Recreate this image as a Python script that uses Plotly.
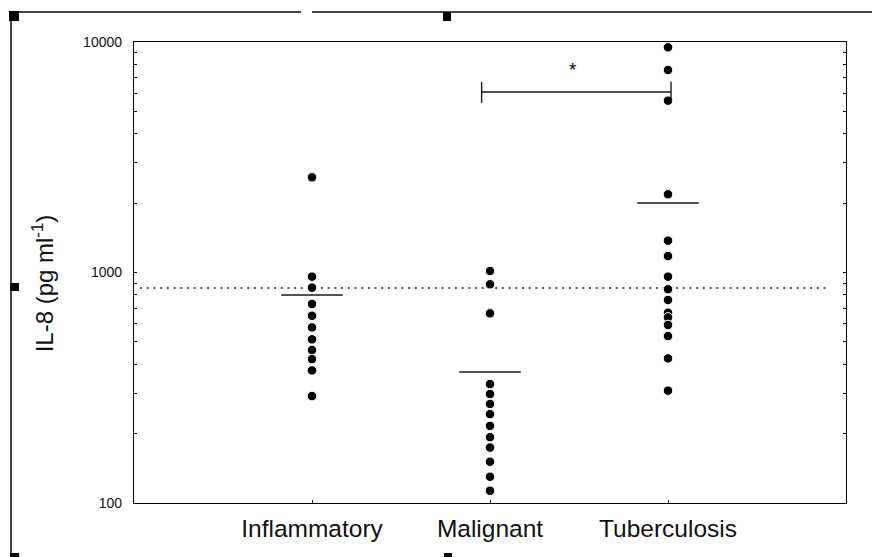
import math
import plotly.graph_objects as go

# ---------------- data ----------------
categories = ["Inflammatory", "Malignant", "Tuberculosis"]

inflammatory = [2588, 959, 859, 730, 649, 578, 513, 461, 421, 376, 291]
malignant = [1015, 889, 665, 328, 297, 269, 243, 216, 193, 174, 151, 130, 113]
tuberculosis = [9487, 7559, 5564, 2184, 1374, 1179, 959, 846, 760, 669, 639,
                592, 530, 424, 307]

group_means = [799, 370, 2002]
reference_level = 857

y_tickvals = [100, 1000, 10000]
y_ticktext = ["100", "1000", "10000"]

# significance bracket between Malignant and Tuberculosis
bracket_level = 6070
bracket_low, bracket_high = 5440, 6720
star_level = 7600

groups = [inflammatory, malignant, tuberculosis]

fig = go.Figure()

# dotted reference line
fig.add_trace(go.Scatter(
    x=[-0.966, 2.904], y=[reference_level, reference_level], mode="lines",
    line=dict(color="#222222", width=1.6, dash="2px,4.7px"),
    hoverinfo="skip", showlegend=False))

# mean bars
half = 0.173
for i, m in enumerate(group_means):
    fig.add_trace(go.Scatter(
        x=[i - half, i + half], y=[m, m], mode="lines",
        line=dict(color="#1a1a1a", width=1.5),
        hoverinfo="skip", showlegend=False))

# points
for i, vals in enumerate(groups):
    fig.add_trace(go.Scatter(
        x=[i] * len(vals), y=vals, mode="markers",
        marker=dict(color="black", size=9.5,
                    line=dict(color="white", width=1)),
        showlegend=False, name=categories[i]))

# significance bracket
bx0, bx1 = 0.953, 2.017
fig.add_trace(go.Scatter(
    x=[bx0, bx0, None, bx0, bx1, None, bx1, bx1],
    y=[bracket_high, bracket_low, None, bracket_level, bracket_level, None,
       bracket_high, bracket_low],
    mode="lines", line=dict(color="#1a1a1a", width=1.4),
    hoverinfo="skip", showlegend=False))

fig.add_annotation(x=1.465, y=math.log10(star_level), text="*",
                   showarrow=False, font=dict(size=19, color="black",
                                              family="Liberation Sans"))

# y-axis title
fig.add_annotation(xref="paper", yref="paper", x=-0.152, y=0.476,
                   text="IL-8 (pg ml<sup>-1</sup>)", textangle=-90,
                   showarrow=False,
                   font=dict(size=24, color="#111111", family="Liberation Sans"))

# ---------------- outer frame (object border + handles) ----------------
L, T, W, H = 134, 42, 712, 461


def px(xp):
    return (xp - L) / W


def py(yp):
    return (T + H - yp) / H


frame_color = "#444444"
shapes = [
    dict(type="line", xref="paper", yref="paper", x0=px(11), x1=px(11),
         y0=py(12), y1=py(570), line=dict(color=frame_color, width=2)),
    dict(type="line", xref="paper", yref="paper", x0=px(11), x1=px(301),
         y0=py(12), y1=py(12), line=dict(color=frame_color, width=2)),
    dict(type="line", xref="paper", yref="paper", x0=px(312), x1=px(880),
         y0=py(12), y1=py(12), line=dict(color=frame_color, width=2)),
]
handles = [(9, 11, 19, 21), (10, 283, 19, 291), (10, 553, 19, 565),
           (443, 12, 451, 21), (444, 553, 452, 565)]
for (a, b, c, d) in handles:
    shapes.append(dict(type="rect", xref="paper", yref="paper",
                       x0=px(a), x1=px(c), y0=py(b), y1=py(d),
                       fillcolor="black", line=dict(width=0)))

fig.update_layout(
    width=872, height=557,
    margin=dict(l=L, r=872 - L - W, t=T, b=557 - T - H),
    paper_bgcolor="white", plot_bgcolor="white",
    shapes=shapes,
    font=dict(family="Liberation Sans", color="#111111"),
    xaxis=dict(
        range=[-1.0, 3.0], tickvals=[0, 1, 2], ticktext=categories,
        ticks="inside", ticklen=3, tickcolor="black",
        showline=True, linecolor="black", linewidth=1.3, mirror=True,
        showgrid=False, zeroline=False,
        tickfont=dict(size=24.5, color="#111111", family="Liberation Sans"),
        ticklabelstandoff=3,
    ),
    yaxis=dict(
        type="log", range=[2, 4], tickvals=y_tickvals, ticktext=y_ticktext,
        ticks="inside", ticklen=3, tickcolor="black",
        showline=True, linecolor="black", linewidth=1.3, mirror="ticks",
        showgrid=False, zeroline=False,
        tickfont=dict(size=14, color="#111111", family="Liberation Sans"),
        ticklabelstandoff=8,
        minor=dict(dtick="D1", ticks="inside", ticklen=3, tickcolor="black",
                   showgrid=False),
    ),
)

fig.write_html("out.html")
